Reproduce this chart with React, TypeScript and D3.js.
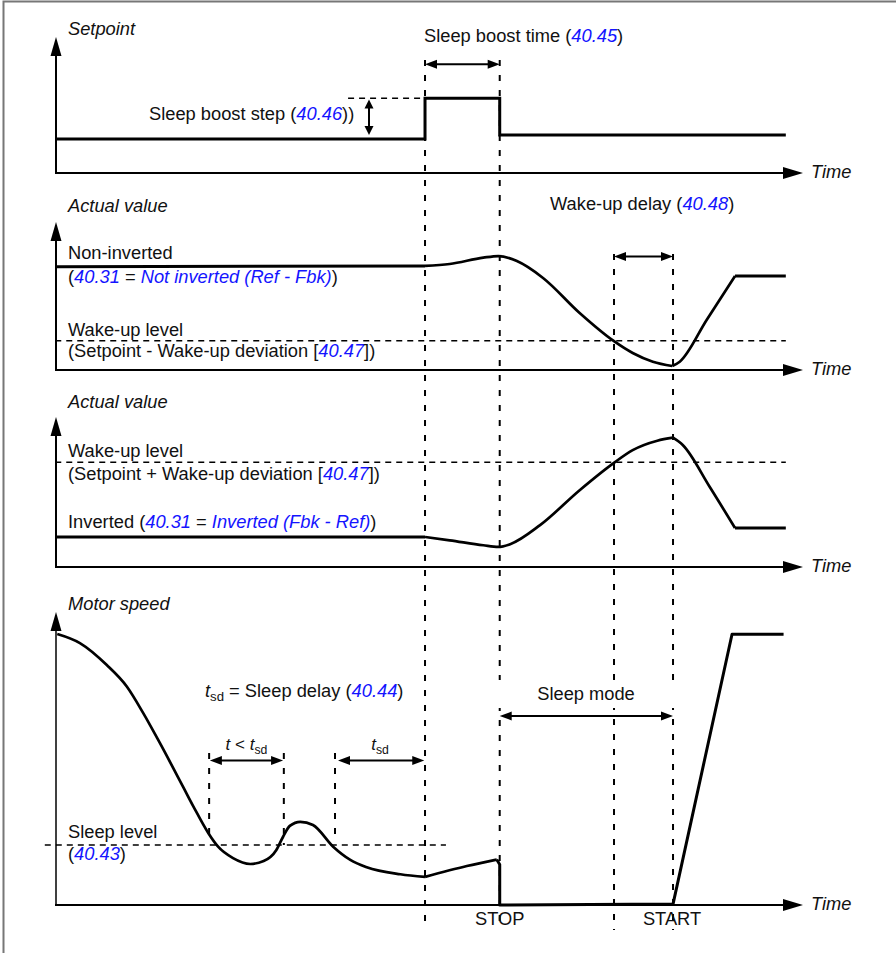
import React from 'react';
import * as d3 from 'd3';

// ---------- DATA (time units 0..100, value units 0..10 per panel) ----------
const T_BOOST_START = 49.4;
const T_STOP = 59.4;
const T_WAKE_CROSS = 74.7;
const T_START = 82.6;
const T_END = 97.7;

const BOOST_LEVEL = 5.5;
const WAKE_LEVEL_NONINV = 1.98;
const WAKE_LEVEL_INV = 6.98;
const SLEEP_LEVEL = 2.05;

const setpointSegments: [number, number][][] = [
  [[0, 2.5], [T_BOOST_START, 2.5], [T_BOOST_START, BOOST_LEVEL], [T_STOP, BOOST_LEVEL], [T_STOP, 2.8], [T_END, 2.8]],
];

const nonInvertedFlat: [number, number][][] = [
  [[0, 6.98], [T_BOOST_START, 7.03]],
  [[90.9, 6.35], [T_END, 6.35]],
];
const nonInvertedCurves: [number, number][][] = [
  [[T_BOOST_START, 7.03], [52.7, 7.16], [57.2, 7.59], [59.2, 7.7], [61.7, 7.36], [65.2, 6.22], [70.1, 3.85], [74.6, 1.98], [77.2, 1.15], [79.9, 0.56], [82.5, 0.27]],
  [[82.5, 0.27], [83.5, 0.56], [87.1, 3.38], [90.9, 6.35]],
];

const invertedFlat: [number, number][][] = [
  [[0, 2.0], [T_BOOST_START, 2.0]],
  [[90.9, 2.6], [T_END, 2.6]],
];
const invertedCurves: [number, number][][] = [
  [[T_BOOST_START, 2.0], [52.7, 1.78], [57.2, 1.45], [59.2, 1.34], [60.8, 1.52], [64.8, 2.79], [70.1, 5.12], [74.6, 6.91], [77.2, 7.79], [80.5, 8.42], [82.6, 8.62]],
  [[82.6, 8.62], [83.9, 8.13], [87.5, 5.35], [90.9, 2.6]],
];

const motorCurves: [number, number][][] = [
  [[0.17, 9.25], [3.2, 8.94], [6.8, 8.19], [9.5, 7.45], [11.7, 6.54], [13.9, 5.53], [17.0, 4.04], [18.4, 3.36], [20.4, 2.45], [21.7, 1.99], [23.7, 1.6], [26.0, 1.4], [27.8, 1.5], [29.5, 1.88], [30.4, 2.33], [31.3, 2.7], [32.7, 2.84], [34.4, 2.73], [37.1, 1.99], [39.4, 1.54], [41.6, 1.29], [46.1, 1.05], [49.4, 0.96]],
  [[49.4, 0.96], [55.0, 1.33], [59.0, 1.55]],
];
const motorFlat: [number, number][][] = [
  [[59.0, 1.55], [T_STOP, 1.38], [T_STOP, 0], [T_START, 0.03], [90.5, 9.24], [97.4, 9.24]],
];

const MARK_T_SHORT = 20.5;
const MARK_T_SHORT_END = 30.5;
const MARK_TSD = 37.35;

// ---------- LAYOUT ----------
const W = 896;
const H = 953;
const FONT = "'Liberation Sans', Arial, Helvetica, sans-serif";
const BLUE = '#1414ff';
const INK = '#111';
const FS = 18.3;

const x = d3.scaleLinear().domain([0, 100]).range([56, 803]);
const panels = [
  { axisY: 173, topY: 37 },
  { axisY: 370, topY: 222 },
  { axisY: 567, topY: 417 },
  { axisY: 905, topY: 612 },
];
const ys = panels.map((p) => d3.scaleLinear().domain([0, 10]).range([p.axisY, p.topY]));

type Part = { s: string; blue?: boolean; it?: boolean; sub?: boolean };

function Rich({ px, py, parts, anchor = 'start', size = FS }: { px: number; py: number; parts: Part[]; anchor?: string; size?: number }) {
  let prevSub = false;
  return (
    <text x={px} y={py} fontFamily={FONT} fontSize={size} textAnchor={anchor as any} fill={INK}>
      {parts.map((p, i) => {
        let dy = 0;
        if (p.sub && !prevSub) dy = 4;
        if (!p.sub && prevSub) dy = -4;
        prevSub = !!p.sub;
        return (
          <tspan
            key={i}
            dy={dy || undefined}
            fill={p.blue ? BLUE : undefined}
            fontStyle={p.it ? 'italic' : undefined}
            fontSize={p.sub ? size * 0.72 : undefined}
          >
            {p.s}
          </tspan>
        );
      })}
    </text>
  );
}

function Head({ tx, ty, dx, dy, len = 12, hw = 4.5 }: { tx: number; ty: number; dx: number; dy: number; len?: number; hw?: number }) {
  const bx = tx - dx * len;
  const by = ty - dy * len;
  const nx = -dy;
  const ny = dx;
  const pts = [
    [tx, ty],
    [bx + nx * hw, by + ny * hw],
    [bx - nx * hw, by - ny * hw],
  ];
  return <polygon points={pts.map((p) => p.join(',')).join(' ')} fill="#000" />;
}

function HDouble({ t0, t1, py }: { t0: number; t1: number; py: number }) {
  const x0 = x(t0);
  const x1 = x(t1);
  return (
    <g>
      <line x1={x0 + 6} x2={x1 - 6} y1={py} y2={py} stroke="#000" strokeWidth={2} />
      <Head tx={x0} ty={py} dx={-1} dy={0} />
      <Head tx={x1} ty={py} dx={1} dy={0} />
    </g>
  );
}

function Axes({ i, thinY = false }: { i: number; thinY?: boolean }) {
  const p = panels[i];
  return (
    <g>
      <line x1={x(0)} x2={x(0)} y1={p.axisY + 1} y2={p.topY + 15} stroke="#000" strokeWidth={thinY ? 1.5 : 2} />
      <Head tx={x(0)} ty={p.topY} dx={0} dy={-1} len={19} hw={5.5} />
      <line x1={x(0) - 1} x2={x(100) - 15} y1={p.axisY} y2={p.axisY} stroke="#000" strokeWidth={2} />
      <Head tx={x(100)} ty={p.axisY} dx={1} dy={0} len={20} hw={6} />
      <text x={811} y={p.axisY + 5} fontFamily={FONT} fontSize={FS} fontStyle="italic" fill={INK}>Time</text>
    </g>
  );
}

export default function App() {
  const linear = (yi: number) => d3.line<[number, number]>().x((d) => x(d[0])).y((d) => ys[yi](d[1])).curve(d3.curveLinear);
  const smooth = (yi: number) => d3.line<[number, number]>().x((d) => x(d[0])).y((d) => ys[yi](d[1])).curve(d3.curveMonotoneX);
  const sig = { fill: 'none', stroke: '#000', strokeWidth: 3, strokeLinejoin: 'round' as const };
  const curveSig = { fill: 'none', stroke: '#000', strokeWidth: 2.7, strokeLinejoin: 'round' as const };
  const vDash = { stroke: '#000', strokeWidth: 2, strokeDasharray: '6,9' };
  const hDash = { stroke: '#000', strokeWidth: 1.6, strokeDasharray: '6,5' };

  return (
    <svg width={W} height={H} style={{ position: 'absolute', left: 0, top: 0, background: '#fff' }}>
      <rect x={3.5} y={1.5} width={1000} height={1000} fill="#fff" stroke="#777" strokeWidth={2} />

      {/* long vertical dashed markers */}
      <line x1={x(T_BOOST_START)} x2={x(T_BOOST_START)} y1={60} y2={930} {...vDash} />
      <line x1={x(T_STOP)} x2={x(T_STOP)} y1={60} y2={930} {...vDash} />
      <line x1={x(T_WAKE_CROSS)} x2={x(T_WAKE_CROSS)} y1={254} y2={930} {...vDash} />
      <line x1={x(T_START)} x2={x(T_START)} y1={254} y2={930} {...vDash} />
      {/* white knock-out behind the "Sleep mode" label */}
      <rect x={x(T_STOP) - 4} y={680} width={x(T_START) - x(T_STOP) + 8} height={28} fill="#fff" />

      {/* ---------- Panel 1: Setpoint ---------- */}
      <Axes i={0} />
      <text x={68} y={35} fontFamily={FONT} fontSize={FS} fontStyle="italic" fill={INK}>Setpoint</text>
      <line x1={x(39.1)} x2={x(T_BOOST_START)} y1={ys[0](BOOST_LEVEL)} y2={ys[0](BOOST_LEVEL)} {...hDash} />
      {setpointSegments.map((s, i) => <path key={i} d={linear(0)(s) || ''} {...sig} strokeLinejoin="miter" />)}
      <g>
        <line x1={x(41.9)} x2={x(41.9)} y1={ys[0](5.4) + 6} y2={ys[0](2.8) - 6} stroke="#000" strokeWidth={2} />
        <Head tx={x(41.9)} ty={ys[0](5.4)} dx={0} dy={-1} len={9} hw={4.5} />
        <Head tx={x(41.9)} ty={ys[0](2.8)} dx={0} dy={1} len={9} hw={4.5} />
      </g>
      <Rich px={149} py={120} parts={[{ s: 'Sleep boost step (' }, { s: '40.46', blue: true, it: true }, { s: '))' }]} />
      <Rich px={424} py={42} parts={[{ s: 'Sleep boost time (' }, { s: '40.45', blue: true, it: true }, { s: ')' }]} />
      <HDouble t0={T_BOOST_START} t1={T_STOP} py={ys[0](8.0)} />

      {/* ---------- Panel 2: Actual value non-inverted ---------- */}
      <Axes i={1} />
      <text x={68} y={212} fontFamily={FONT} fontSize={FS} fontStyle="italic" fill={INK}>Actual value</text>
      <line x1={x(-0.1)} x2={x(T_END)} y1={ys[1](WAKE_LEVEL_NONINV)} y2={ys[1](WAKE_LEVEL_NONINV)} {...hDash} />
      {nonInvertedFlat.map((s, i) => <path key={'f' + i} d={linear(1)(s) || ''} {...sig} />)}
      {nonInvertedCurves.map((s, i) => <path key={'c' + i} d={smooth(1)(s) || ''} {...curveSig} />)}
      <Rich px={68} py={259} parts={[{ s: 'Non-inverted' }]} />
      <Rich px={68} py={283} parts={[{ s: '(' }, { s: '40.31', blue: true, it: true }, { s: ' = ' }, { s: 'Not inverted (Ref - Fbk)', blue: true, it: true }, { s: ')' }]} />
      <Rich px={68} py={336} parts={[{ s: 'Wake-up level' }]} />
      <Rich px={68} py={357} parts={[{ s: '(Setpoint - Wake-up deviation [' }, { s: '40.47', blue: true, it: true }, { s: '])' }]} />
      <Rich px={550} py={210} parts={[{ s: 'Wake-up delay (' }, { s: '40.48', blue: true, it: true }, { s: ')' }]} />
      <HDouble t0={T_WAKE_CROSS} t1={T_START} py={256.5} />

      {/* ---------- Panel 3: Actual value inverted ---------- */}
      <Axes i={2} />
      <text x={68} y={408} fontFamily={FONT} fontSize={FS} fontStyle="italic" fill={INK}>Actual value</text>
      <line x1={x(-0.1)} x2={x(T_END)} y1={ys[2](WAKE_LEVEL_INV)} y2={ys[2](WAKE_LEVEL_INV)} {...hDash} />
      {invertedFlat.map((s, i) => <path key={'f' + i} d={linear(2)(s) || ''} {...sig} />)}
      {invertedCurves.map((s, i) => <path key={'c' + i} d={smooth(2)(s) || ''} {...curveSig} />)}
      <Rich px={68} py={457} parts={[{ s: 'Wake-up level' }]} />
      <Rich px={68} py={480} parts={[{ s: '(Setpoint + Wake-up deviation [' }, { s: '40.47', blue: true, it: true }, { s: '])' }]} />
      <Rich px={68} py={528} parts={[{ s: 'Inverted (' }, { s: '40.31', blue: true, it: true }, { s: ' = ' }, { s: 'Inverted (Fbk - Ref)', blue: true, it: true }, { s: ')' }]} />

      {/* ---------- Panel 4: Motor speed ---------- */}
      <Axes i={3} thinY />
      <text x={68} y={610} fontFamily={FONT} fontSize={FS} fontStyle="italic" fill={INK}>Motor speed</text>
      <line x1={x(-1.5)} x2={x(52.2)} y1={ys[3](SLEEP_LEVEL)} y2={ys[3](SLEEP_LEVEL)} {...hDash} />
      <line x1={x(MARK_T_SHORT)} x2={x(MARK_T_SHORT)} y1={753} y2={ys[3](2.35)} {...vDash} />
      <line x1={x(MARK_T_SHORT_END)} x2={x(MARK_T_SHORT_END)} y1={753} y2={ys[3](SLEEP_LEVEL)} {...vDash} />
      <line x1={x(MARK_TSD)} x2={x(MARK_TSD)} y1={753} y2={ys[3](2.3)} {...vDash} />
      {motorCurves.map((s, i) => <path key={'c' + i} d={smooth(3)(s) || ''} {...curveSig} />)}
      {motorFlat.map((s, i) => <path key={'f' + i} d={linear(3)(s) || ''} {...sig} />)}
      <Rich px={68} py={838} parts={[{ s: 'Sleep level' }]} />
      <Rich px={68} py={860} parts={[{ s: '(' }, { s: '40.43', blue: true, it: true }, { s: ')' }]} />
      <Rich px={205} py={697} parts={[{ s: 't', it: true }, { s: 'sd', sub: true }, { s: ' = Sleep delay (' }, { s: '40.44', blue: true, it: true }, { s: ')' }]} />
      <Rich px={246.5} py={750} anchor="middle" size={17} parts={[{ s: 't', it: true }, { s: ' < ' }, { s: 't', it: true }, { s: 'sd', sub: true }]} />
      <Rich px={380} py={750} anchor="middle" size={17} parts={[{ s: 't', it: true }, { s: 'sd', sub: true }]} />
      <HDouble t0={20.6} t1={30.4} py={760.5} />
      <HDouble t0={37.75} t1={49.3} py={760.5} />
      <Rich px={586} py={700} anchor="middle" parts={[{ s: 'Sleep mode' }]} />
      <HDouble t0={T_STOP} t1={T_START} py={716} />
      <Rich px={x(T_STOP)} py={925} anchor="middle" parts={[{ s: 'STOP' }]} />
      <Rich px={x(T_START) - 1} py={925} anchor="middle" parts={[{ s: 'START' }]} />
    </svg>
  );
}
